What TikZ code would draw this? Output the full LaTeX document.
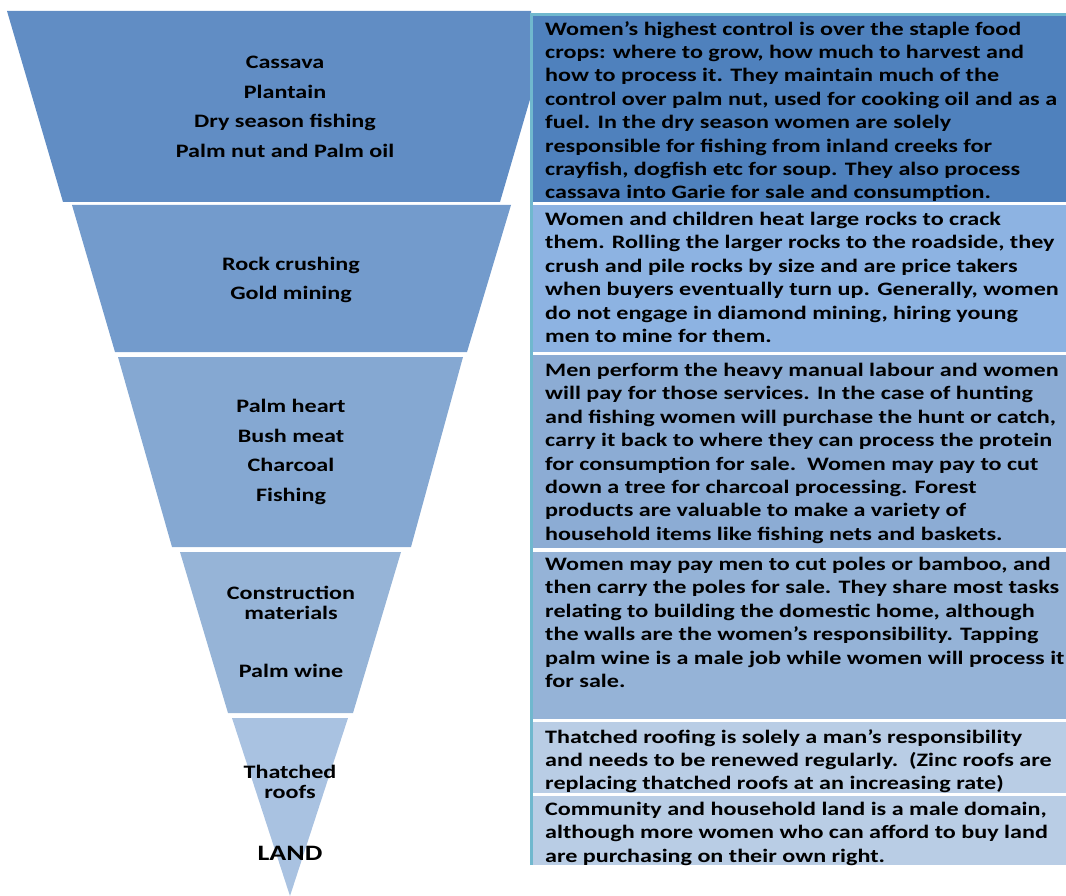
\documentclass[tikz,border=0pt]{standalone}
\usepackage{fontspec}
\setmainfont{Carlito}[FakeStretch=1.27]
\definecolor{bA}{RGB}{97,141,196}
\definecolor{bB}{RGB}{115,155,204}
\definecolor{bC}{RGB}{133,168,210}
\definecolor{bD}{RGB}{150,180,215}
\definecolor{bE}{RGB}{169,194,225}
\definecolor{xA}{RGB}{79,129,189}
\definecolor{xB}{RGB}{141,179,226}
\definecolor{xC}{RGB}{140,172,212}
\definecolor{xD}{RGB}{149,179,215}
\definecolor{xE}{RGB}{185,205,229}
\definecolor{edge}{RGB}{112,184,206}
\tikzset{
  lab/.style={font=\fontsize{19}{29.5}\selectfont\bfseries, align=center, inner sep=0pt, text=black},
  labtight/.style={lab, font=\fontsize{19}{20.5}\selectfont\bfseries},
  landlab/.style={lab, font=\fontsize{22}{26}\selectfont\bfseries},
  desc/.style={font=\fontsize{19}{23.4}\selectfont\bfseries, align=left, anchor=north west, inner sep=0pt, text=black},
  edgeline/.style={draw=edge, line width=3pt}
}
\begin{document}
\begin{tikzpicture}[x=1pt,y=-1pt]
\useasboundingbox (0,0) rectangle (1066,896);
% funnel bands
\fill[bA] (7,11) -- (531,11) -- (531,96) -- (500,202) -- (63,202) -- cycle;
\fill[bB] (72,205) -- (511,205) -- (467,352) -- (115,352) -- cycle;
\fill[bC] (118,357) -- (463,357) -- (411,547) -- (172,547) -- cycle;
\fill[bD] (180,552) -- (401,552) -- (353,713) -- (228,713) -- cycle;
\fill[bE] (232,718) -- (348,718) -- (290,896) -- cycle;
% labels
\node[lab] (l1) at (285,107) {Cassava\\Plantain\\Dry season fishing\\Palm nut and Palm oil};
\node[lab] (l2) at (291,280) {Rock crushing\\Gold mining};
\node[lab] (l3) at (291,452) {Palm heart\\Bush meat\\Charcoal\\Fishing};
\node[labtight] (l4) at (291,603) {Construction\\materials};
\node[lab] (l4b) at (291,671) {Palm wine};
\node[labtight] (l5) at (290,782) {Thatched\\roofs};
\node[landlab] (l6) at (290,853) {LAND};
% description boxes
\fill[xA] (531,15) rectangle (1066,202);
\fill[xB] (531,205) rectangle (1066,352);
\fill[xC] (531,355) rectangle (1066,548);
\fill[xD] (531,552) rectangle (1066,719);
\fill[xE] (531,722) rectangle (1066,793);
\fill[xE] (531,796) rectangle (1066,865);
\draw[edgeline] (531,865) -- (531,15) -- (1066,15);
\node[desc] (d1) at (545,21) {Women’s highest control is over the staple food\\crops: where to grow, how much to harvest and\\how to process it. They maintain much of the\\control over palm nut, used for cooking oil and as a\\fuel. In the dry season women are solely\\responsible for fishing from inland creeks for\\crayfish, dogfish etc for soup. They also process\\cassava into Garie for sale and consumption.};
\node[desc] (d2) at (545,212) {Women and children heat large rocks to crack\\them. Rolling the larger rocks to the roadside, they\\crush and pile rocks by size and are price takers\\when buyers eventually turn up. Generally, women\\do not engage in diamond mining, hiring young\\men to mine for them.};
\node[desc] (d3) at (545,363) {Men perform the heavy manual labour and women\\will pay for those services. In the case of hunting\\and fishing women will purchase the hunt or catch,\\carry it back to where they can process the protein\\for consumption for sale.\ \ Women may pay to cut\\down a tree for charcoal processing. Forest\\products are valuable to make a variety of\\household items like fishing nets and baskets.};
\node[desc] (d4) at (545,557) {Women may pay men to cut poles or bamboo, and\\then carry the poles for sale. They share most tasks\\relating to building the domestic home, although\\the walls are the women’s responsibility. Tapping\\palm wine is a male job while women will process it\\for sale.};
\node[desc] (d5) at (545,729) {Thatched roofing is solely a man’s responsibility\\and needs to be renewed regularly.\ \ (Zinc roofs are\\replacing thatched roofs at an increasing rate)};
\node[desc] (d6) at (545,802) {Community and household land is a male domain,\\although more women who can afford to buy land\\are purchasing on their own right.};
\end{tikzpicture}
\end{document}
